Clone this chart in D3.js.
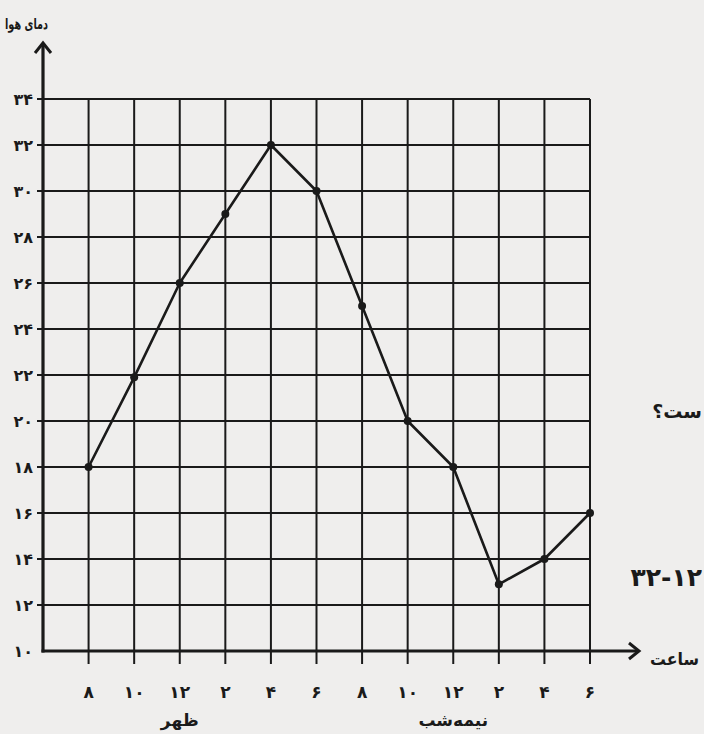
<!DOCTYPE html>
<html><head><meta charset="utf-8">
<script src="https://cdn.jsdelivr.net/npm/d3@7"></script>
<style>
html,body{margin:0;padding:0;background:#efeeed;}
svg{display:block;}
text{font-family:"DejaVu Sans",sans-serif;fill:#1a1a1a;}
</style></head>
<body>
<script>
const hours = ["۸","۱۰","۱۲","۲","۴","۶","۸","۱۰","۱۲","۲","۴","۶"];
const temps = [18, 21.9, 26, 29, 32, 30, 25, 20, 18, 12.9, 14, 16];
const yTicks = [10,12,14,16,18,20,22,24,26,28,30,32,34];
const yTickLabels = ["۱۰","۱۲","۱۴","۱۶","۱۸","۲۰","۲۲","۲۴","۲۶","۲۸","۳۰","۳۲","۳۴"];
const yTitle = "دمای هوا";
const xTitle = "ساعت";
const subLabels = [{idx:2, text:"ظهر"},{idx:8, text:"نیمه‌شب"}];

const W=704,H=734;
const svg=d3.select("body").append("svg").attr("width",W).attr("height",H);
const x=d3.scaleLinear().domain([-1,11]).range([43,590]);
const y=d3.scaleLinear().domain([10,34]).range([651,99]);
const ink="#1a1a1a";

// horizontal grid lines (with left tick stubs)
svg.append("g").selectAll("line").data(yTicks.slice(1)).join("line")
  .attr("x1",x(-1)-6).attr("x2",x(11))
  .attr("y1",d=>y(d)).attr("y2",d=>y(d))
  .attr("stroke",ink).attr("stroke-width",2);
// vertical grid lines (with bottom tick stubs)
svg.append("g").selectAll("line").data(d3.range(hours.length)).join("line")
  .attr("x1",d=>x(d)).attr("x2",d=>x(d))
  .attr("y1",y(34)).attr("y2",y(10)+13)
  .attr("stroke",ink).attr("stroke-width",2);

// axes
svg.append("line").attr("x1",x(-1)).attr("x2",x(-1)).attr("y1",y(10)+1.5).attr("y2",44)
  .attr("stroke",ink).attr("stroke-width",3.2);
svg.append("path").attr("d",`M${x(-1)-8},${53}L${x(-1)},${43}L${x(-1)+8},${53}`)
  .attr("fill","none").attr("stroke",ink).attr("stroke-width",3);
svg.append("line").attr("x1",x(-1)-1.5).attr("x2",638).attr("y1",y(10)).attr("y2",y(10))
  .attr("stroke",ink).attr("stroke-width",3.2);
svg.append("path").attr("d",`M${629},${y(10)-8}L${639},${y(10)}L${629},${y(10)+8}`)
  .attr("fill","none").attr("stroke",ink).attr("stroke-width",3);

// y tick labels
svg.append("g").selectAll("text").data(yTicks).join("text")
  .attr("x",33).attr("y",d=>y(d)+6).attr("text-anchor","end")
  .style("font-weight","bold").attr("font-size",16).text((d,i)=>yTickLabels[i]);
// x tick labels
svg.append("g").selectAll("text").data(hours).join("text")
  .attr("x",(d,i)=>x(i)).attr("y",698).attr("text-anchor","middle")
  .style("font-weight","bold").attr("font-size",17).text(d=>d);
svg.append("g").selectAll("text").data(subLabels).join("text")
  .attr("x",d=>x(d.idx)).attr("y",726).attr("text-anchor","middle")
  .style("font-weight","bold").attr("font-size",17).text(d=>d.text);

svg.append("text").attr("x",5).attr("y",29).attr("text-anchor","start")
  .style("font-weight","bold").attr("font-size",15)
  .attr("textLength",43).attr("lengthAdjust","spacingAndGlyphs").text(yTitle);
svg.append("text").attr("x",650).attr("y",665).attr("text-anchor","start")
  .style("font-weight","bold").attr("font-size",17)
  .attr("textLength",49).attr("lengthAdjust","spacingAndGlyphs").text(xTitle);

// scanned-page fragments on the right
svg.append("text").attr("x",702).attr("y",418).attr("text-anchor","end")
  .style("font-weight","bold").attr("font-size",19).text("ست؟");
svg.append("text").attr("x",702).attr("y",586).attr("text-anchor","end")
  .style("font-weight","bold").attr("font-size",25).text("۳۲-۱۲");

// data line
const line=d3.line().x((d,i)=>x(i)).y(d=>y(d));
svg.append("path").datum(temps).attr("d",line).attr("fill","none")
  .attr("stroke",ink).attr("stroke-width",2.6).attr("stroke-linejoin","round");
svg.append("g").selectAll("circle").data(temps).join("circle")
  .attr("cx",(d,i)=>x(i)).attr("cy",d=>y(d)).attr("r",4).attr("fill",ink);
</script>
</body></html>
